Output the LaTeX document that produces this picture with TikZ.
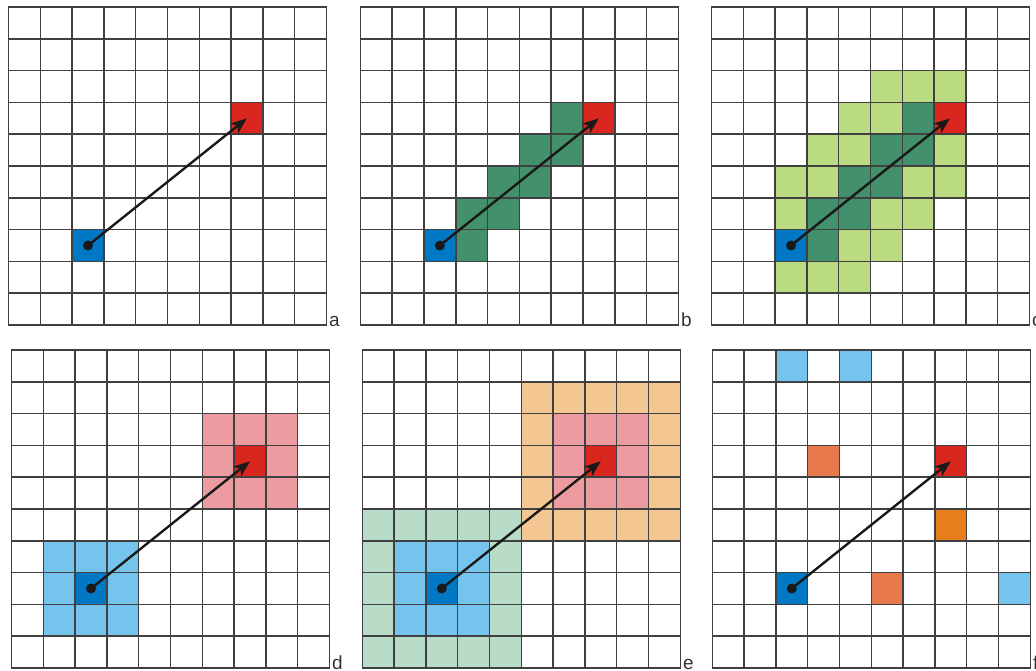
\documentclass[tikz,border=0pt]{standalone}
\usepackage{fontspec}
\setmainfont{Liberation Sans}
\usetikzlibrary{arrows.meta}
\definecolor{gridgray}{RGB}{64,64,64}
\definecolor{cblue}{RGB}{0,120,196}
\definecolor{cred}{RGB}{217,38,30}
\definecolor{dgreen}{RGB}{66,145,108}
\definecolor{lgreen}{RGB}{186,219,130}
\definecolor{pink}{RGB}{236,156,160}
\definecolor{lblue}{RGB}{116,196,238}
\definecolor{lorange}{RGB}{244,198,146}
\definecolor{pgreen}{RGB}{185,220,201}
\definecolor{redorange}{RGB}{232,121,74}
\definecolor{orange}{RGB}{232,125,28}
\tikzset{
  gridline/.style={line width=1.5pt, draw=gridgray, line cap=rect},
  arr/.style={line width=2.4pt, draw={black!90}, -{Stealth[length=16pt,width=12pt,inset=4pt]}},
  dotnode/.style={circle, fill=black!90, inner sep=0pt, minimum size=10pt},
  lbl/.style={anchor=base west, inner sep=0pt, xshift=2.5pt, yshift=-1.5pt, font=\fontsize{19}{19}\selectfont, text=black!80},
  lblb/.style={lbl, yshift=0pt},
  panel/.style={x=31.8pt, y=-31.8pt}
}
\newcommand{\cellc}[3]{\fill[#3] (#1,#2) rectangle ++(1,1);}
\newcommand{\gridten}{%
  \foreach \i in {0,...,10} {
    \draw[gridline] (\i,0) -- (\i,10);
    \draw[gridline] (0,\i) -- (10,\i);
  }}
\newcommand{\arrowpair}[1]{%
  \coordinate (s#1) at (2.5,7.5);
  \coordinate (t#1) at (7.5,3.5);
  \node[dotnode] (d#1) at (s#1) {};
  \draw[arr] (s#1) -- (t#1);}
\begin{document}
\begin{tikzpicture}
\useasboundingbox (0,0) rectangle (1036pt,-670pt);
\clip (0,0) rectangle (1036pt,-670pt);
% panel a
\begin{scope}[shift={(8.5pt,-7pt)}, panel]
  \cellc{2}{7}{cblue}
  \cellc{7}{3}{cred}
  \gridten
  \arrowpair{a}
  \node[lbl] (la) at (10,10) {a};
\end{scope}
% panel b
\begin{scope}[shift={(360.4pt,-7pt)}, panel]
  \foreach \c/\r in {3/7,3/6,4/6,4/5,5/5,5/4,6/4,6/3} {\cellc{\c}{\r}{dgreen}}
  \cellc{2}{7}{cblue}
  \cellc{7}{3}{cred}
  \gridten
  \arrowpair{b}
  \node[lbl] (lb) at (10,10) {b};
\end{scope}
% panel c
\begin{scope}[shift={(711.5pt,-7pt)}, panel]
  \foreach \c/\r in {5/2,6/2,7/2,4/3,5/3,3/4,4/4,7/4,2/5,3/5,6/5,7/5,2/6,5/6,6/6,4/7,5/7,2/8,3/8,4/8} {\cellc{\c}{\r}{lgreen}}
  \foreach \c/\r in {3/7,3/6,4/6,4/5,5/5,5/4,6/4,6/3} {\cellc{\c}{\r}{dgreen}}
  \cellc{2}{7}{cblue}
  \cellc{7}{3}{cred}
  \gridten
  \arrowpair{c}
  \node[lbl] (lc) at (10,10) {c};
\end{scope}
% panel d
\begin{scope}[shift={(11.5pt,-350pt)}, panel]
  \fill[pink] (6,2) rectangle (9,5);
  \fill[lblue] (1,6) rectangle (4,9);
  \cellc{2}{7}{cblue}
  \cellc{7}{3}{cred}
  \gridten
  \arrowpair{d}
  \node[lblb] (ld) at (10,10) {d};
\end{scope}
% panel e
\begin{scope}[shift={(362.3pt,-350pt)}, panel]
  \fill[lorange] (5,1) rectangle (10,6);
  \fill[pgreen] (0,5) rectangle (5,10);
  \fill[pink] (6,2) rectangle (9,5);
  \fill[lblue] (1,6) rectangle (4,9);
  \cellc{2}{7}{cblue}
  \cellc{7}{3}{cred}
  \gridten
  \arrowpair{e}
  \node[lblb] (le) at (10,10) {e};
\end{scope}
% panel f
\begin{scope}[shift={(712.3pt,-350pt)}, panel]
  \cellc{2}{0}{lblue}
  \cellc{4}{0}{lblue}
  \cellc{9}{7}{lblue}
  \cellc{3}{3}{redorange}
  \cellc{5}{7}{redorange}
  \cellc{7}{5}{orange}
  \cellc{2}{7}{cblue}
  \cellc{7}{3}{cred}
  \gridten
  \arrowpair{f}
  \node[lblb] (lf) at (10,10) {f};
\end{scope}
\end{tikzpicture}
\end{document}
